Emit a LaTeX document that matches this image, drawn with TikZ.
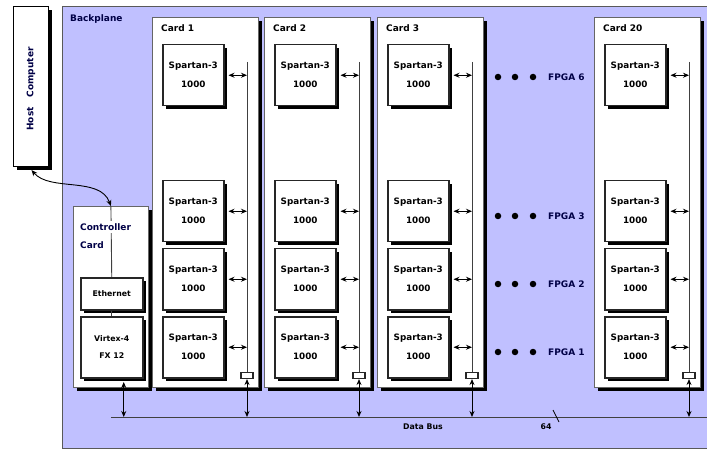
\documentclass[tikz,border=0pt]{standalone}
\usepackage{fontspec}
\setmainfont{DejaVu Sans}
\usetikzlibrary{arrows.meta,shadows,calc}
\definecolor{bpfill}{RGB}{192,192,255}
\definecolor{navy}{RGB}{0,0,70}
\begin{document}
\begin{tikzpicture}[x=1pt,y=-1pt,
  shad/.style={drop shadow={shadow xshift=3.5pt,shadow yshift=-3.5pt,fill=black,opacity=1}},
  cardbox/.style={draw=black!60,line width=0.8pt,fill=white,shad,anchor=north west,inner sep=0pt},
  fpgabox/.style={draw=black!85,line width=1.5pt,fill=white,shad,anchor=north west,
     minimum width=61pt,minimum height=61pt,inner sep=0pt,
     font=\fontsize{8.8}{19}\selectfont\bfseries,align=center},
  smallbox/.style={draw=black!85,line width=1.5pt,fill=white,shad,anchor=north west,
     minimum width=62pt,inner sep=0pt,font=\fontsize{7.8}{17}\selectfont\bfseries,align=center},
  lbl/.style={font=\fontsize{9}{10}\selectfont\bfseries,anchor=west,inner sep=0pt},
  dbl/.style={{Stealth[length=6pt,width=5pt]}-{Stealth[length=6pt,width=5pt]},line width=0.9pt},
  busl/.style={draw=black!75,line width=0.9pt},
  dotn/.style={circle,fill=black,minimum size=6.5pt,inner sep=0pt},
  busrect/.style={draw=black!85,line width=1.1pt,fill=white,minimum width=12pt,minimum height=6pt,inner sep=0pt}]
\useasboundingbox (0,0) rectangle (707,449);
% backplane
\node[draw=black!65,line width=1pt,fill=bpfill,anchor=north west,minimum width=660pt,minimum height=442pt,inner sep=0pt] (bp) at (62,6) {};
\node[lbl,text=navy] (bptxt) at (70,19) {Backplane};
% host
\node[draw=black,line width=1pt,fill=white,anchor=north west,minimum width=35pt,minimum height=160pt,inner sep=0pt,shad] (host) at (13,6) {};
\node[font=\fontsize{9}{10}\selectfont\bfseries,text=navy,rotate=90,inner sep=0pt] (hosttxt) at (31,89) {Host\hspace{10pt}Computer};
% data bus
\coordinate (busL) at (111,417);
\coordinate (busR) at (712,417);
\draw[busl] (busL) -- (busR);
\node[font=\fontsize{7.8}{9}\selectfont\bfseries,inner sep=0pt] (dbtxt) at (423,427) {Data Bus};
\node[font=\fontsize{7.8}{9}\selectfont\bfseries,inner sep=0pt] (w64) at (546,427) {64};
\draw[line width=0.7pt] (553,410) -- (559,422);
% controller card
\node[cardbox,minimum width=75pt,minimum height=181pt] (ctrl) at (73,206) {};
\node[smallbox,minimum height=32pt] (eth) at (80,277) {Ethernet};
\node[smallbox,minimum height=61pt] (vir) at (80,316) {Virtex-4\\FX 12};
\draw[busl] (ctrl.north) -- (eth.north);
\draw[busl] (eth.south) -- (vir.north);
\node[lbl,text=navy,fill=white,inner ysep=3pt] (ctrltxt) at (80,227) {Controller};
\node[lbl,text=navy] (cardtxt) at (80,245) {Card};
\coordinate (va) at ($(vir.south)+(12,3.5)$);
\draw[dbl] (va) -- (va |- busL);
% host link
\coordinate (hs) at ($(host.south)+(0.5,3)$);
\draw[dbl] (hs) .. controls (50,192) and (100,176) .. (ctrl.north);
% cards
\foreach \L/\n/\i in {152/1/a,264/2/b,377/3/c,594/20/d}{
  \node[cardbox,minimum width=106pt,minimum height=370pt] (card\i) at (\L,17) {};
  \node[lbl] (cl\i) at (\L+9,28) {Card \n};
  \coordinate (bt\i) at (\L+95,62);
  \node[busrect] (rect\i) at (\L+95,375.5) {};
  \draw[busl] (bt\i) -- (rect\i.north);
  \draw[dbl] (rect\i.south) -- (rect\i.south |- busL);
  \foreach \j/\t in {1/44,2/180,3/248,4/316}{
    \node[fpgabox] (s\i\j) at (\L+10,\t) {Spartan-3\\1000};
    \draw[dbl] ([xshift=4pt]s\i\j.east) -- (s\i\j.east -| bt\i);
  }
}
% dots and FPGA labels
\foreach \y/\k in {77/6,216/3,284/2,352/1}{
  \node[dotn] (da\k) at (498,\y) {};
  \node[dotn] (db\k) at (515,\y) {};
  \node[dotn] (dc\k) at (533,\y) {};
  \node[lbl,text=navy] (fp\k) at (548,\y) {FPGA \k};
}
\end{tikzpicture}
\end{document}
